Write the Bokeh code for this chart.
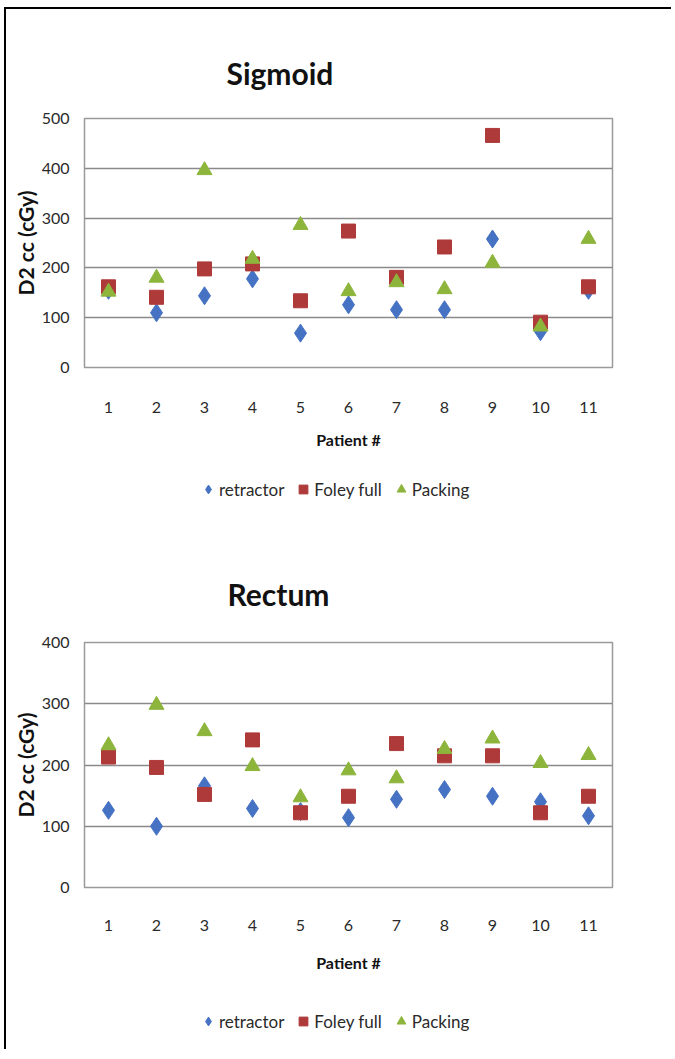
from bokeh.plotting import figure
from bokeh.models import Range1d, FixedTicker, Legend, LegendItem, Spacer
from bokeh.layouts import column
from bokeh.embed import file_html
from bokeh.resources import INLINE

patients = [1, 2, 3, 4, 5, 6, 7, 8, 9, 10, 11]
tick_labels = {i: str(i) for i in patients}
series_names = ["retractor", "Foley full", "Packing"]

sig_retractor = [155, 110, 144, 178, 69, 126, 116, 116, 258, 72, 155]
sig_foley = [162, 141, 198, 208, 134, 274, 181, 242, 466, 91, 162]
sig_packing = [152, 180, 396, 218, 286, 153, 171, 157, 210, 82, 258]

rec_retractor = [126, 100, 166, 129, 124, 114, 144, 160, 149, 140, 117]
rec_foley = [213, 196, 152, 241, 122, 149, 235, 215, 215, 122, 149]
rec_packing = [232, 298, 255, 198, 147, 191, 178, 226, 243, 203, 216]

BLUE = "#4672C4"
RED = "#AE3A3A"
GREEN = "#8DB53C"
FONT = "Lato"
W = 667


def add_series(p, xs, retr, foley, pack):
    r1 = p.scatter(xs, retr, marker="diamond", size=18, fill_color=BLUE,
                   line_color=BLUE)
    r2 = p.scatter(xs, foley, marker="square", size=14, fill_color=RED,
                   line_color=RED)
    r3 = p.scatter(xs, pack, marker="triangle", size=15, fill_color=GREEN,
                   line_color=GREEN)
    return [r1, r2, r3]


def make_chart(title, ymax, retr, foley, pack, height, top, bottom,
               title_off, title_standoff, tick_standoff, label_standoff):
    p = figure(width=W, height=height, output_backend="svg",
               toolbar_location=None,
               x_range=Range1d(0.5, 11.5), y_range=Range1d(0, ymax),
               min_border_left=78, min_border_right=61,
               min_border_top=top, min_border_bottom=bottom, title=title)
    p.title.align = "left"
    p.title.offset = title_off
    p.title.text_font = FONT
    p.title.text_font_size = "30px"
    p.title.text_font_style = "bold"
    p.title.text_color = "#111111"
    p.title.standoff = title_standoff
    p.background_fill_color = "white"
    p.border_fill_color = "white"
    p.outline_line_color = "#9a9a9a"
    p.outline_line_width = 1.5

    p.xgrid.visible = False
    p.ygrid.grid_line_color = "#8a8a8a"
    p.ygrid.grid_line_width = 1.6
    p.ygrid.ticker = FixedTicker(ticks=list(range(0, ymax + 1, 100)))

    p.xaxis.ticker = FixedTicker(ticks=patients)
    p.xaxis.major_label_overrides = tick_labels
    p.yaxis.ticker = FixedTicker(ticks=list(range(0, ymax + 1, 100)))
    for ax in (p.xaxis, p.yaxis):
        ax.axis_line_color = None
        ax.major_tick_line_color = None
        ax.minor_tick_line_color = None
        ax.major_tick_out = 0
        ax.major_tick_in = 0
        ax.major_label_text_font = FONT
        ax.major_label_text_font_size = "16px"
        ax.major_label_text_color = "#2a2a2a"
        ax.axis_label_text_font = FONT
        ax.axis_label_text_font_style = "bold"
        ax.axis_label_text_color = "#111111"
    p.xaxis.axis_label = "Patient #"
    p.xaxis.axis_label_text_font_size = "16px"
    p.xaxis.major_label_standoff = tick_standoff
    p.xaxis.axis_label_standoff = label_standoff
    p.yaxis.axis_label = "D2 cc (cGy)"
    p.yaxis.axis_label_text_font_size = "21px"
    p.yaxis.major_label_standoff = 15
    p.yaxis.axis_label_standoff = 1

    add_series(p, patients, retr, foley, pack)
    return p


def make_legend(height, bottom_y):
    lf = figure(width=W, height=height, output_backend="svg", toolbar_location=None,
                x_range=Range1d(0, 1), y_range=Range1d(0, 1), min_border=0)
    lf.axis.visible = False
    lf.grid.visible = False
    lf.outline_line_color = None
    lf.background_fill_color = "white"
    lf.border_fill_color = "white"
    rs = add_series(lf, [-5], [-5], [-5], [-5])
    legend = Legend(items=[LegendItem(label=n, renderers=[r])
                           for n, r in zip(series_names, rs)],
                    orientation="horizontal", location=(113, bottom_y),
                    border_line_color=None, background_fill_alpha=0,
                    label_text_font=FONT, label_text_font_size="17px",
                    label_text_color="#2a2a2a",
                    glyph_width=22, glyph_height=24, label_standoff=0,
                    spacing=8, padding=0, margin=0)
    lf.add_layout(legend, "center")
    return lf


p1 = make_chart("Sigmoid", 500, sig_retractor, sig_foley, sig_packing,
                461, 109, 103, 142, 56, 34, 14)
l1 = make_legend(38, 7)
p2 = make_chart("Rectum", 400, rec_retractor, rec_foley, rec_packing,
                493, 134, 114, 143, 61, 32, 19)
l2 = make_legend(40, 8)
sp = Spacer(width=W, height=10)

layout = column(p1, l1, p2, l2, sp, spacing=0, margin=(9, 0, 0, 6),
                styles={"box-shadow": "-2px -2px 0 0 #000000"})

open("out.html", "w").write(file_html(layout, INLINE))
